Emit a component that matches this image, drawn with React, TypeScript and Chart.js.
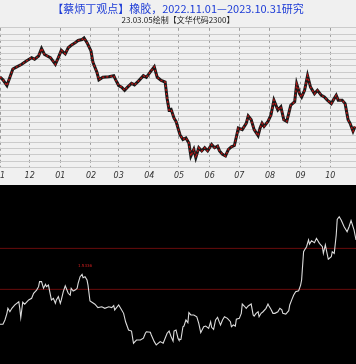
import React, { useEffect, useRef } from "react";
import { Chart, registerables } from "chart.js";

Chart.register(...registerables);

const titleText = "【蔡炳丁观点】橡胶，2022.11.01—2023.10.31研究";
const subtitleText = "23.03.05绘制【文华代码2300】";

// month starts, in days after 2022-11-01
const monthTicks = [0, 30, 61, 92, 120, 151, 181, 212, 242, 273, 304, 334];
const monthLabels = ["11", "12", "01", "02", "03", "04", "05", "06", "07", "08", "09", "10"];

// price path (upper panel)
const priceDays = [
  0, 3, 7, 13, 17, 22, 27, 32, 35, 39, 42, 45, 51, 56, 59, 62, 66, 69, 72, 76, 79, 83, 85, 88, 92, 94, 98, 100,
  104, 110, 115, 117, 120, 123, 126, 129, 133, 136, 140, 145, 148, 153, 156, 159, 163, 167, 169, 171, 173, 176,
  178, 182, 185, 188, 191, 193, 196, 198, 201, 204, 207, 210, 214, 217, 220, 222, 225, 228, 231, 234, 237, 239,
  241, 245, 249, 251, 254, 257, 261, 263, 265, 267, 271, 274, 277, 281, 284, 287, 290, 292, 294, 298, 300, 303,
  305, 308, 311, 314, 318, 321, 325, 328, 331, 335, 337, 340, 342, 346, 349, 352, 354, 357, 359,
];
const priceValues = [
  13650, 13560, 13380, 13900, 13970, 14050, 14160, 14260, 14210, 14310, 14550, 14360, 14260, 14050, 14260, 14490,
  14380, 14570, 14650, 14730, 14800, 14830, 14880, 14730, 14470, 14110, 13800, 13560, 13640, 13660, 13690, 13560,
  13380, 13330, 13230, 13330, 13450, 13400, 13520, 13690, 13640, 13850, 13970, 13640, 13540, 13490, 12970, 12610,
  12630, 12350, 12250, 11830, 11680, 11730, 11570, 11160, 11370, 11110, 11420, 11320, 11420, 11320, 11520, 11420,
  11470, 11320, 11210, 11160, 11370, 11450, 11490, 11760, 12040, 11990, 12190, 12420, 12300, 11990, 11800, 12040,
  12190, 12090, 12250, 12450, 12920, 12610, 12710, 12300, 12250, 12500, 12760, 12870, 13430, 13120, 13020, 13230,
  13690, 13330, 13120, 13230, 13070, 13020, 12920, 12810, 12920, 13070, 12920, 12920, 12810, 12300, 12190, 11940,
  12090,
];

// indicator path (lower panel)
const oscDays = [
  0, 3, 5, 7, 8, 10, 12, 15, 19, 20, 21, 23, 25, 29, 32, 34, 37, 39, 40, 42, 44, 46, 47, 49, 51, 52, 54, 56, 57,
  59, 61, 62, 64, 66, 67, 69, 71, 72, 74, 76, 78, 79, 81, 83, 84, 86, 88, 89, 91, 93, 96, 99, 103, 106, 110, 113,
  115, 116, 120, 122, 125, 127, 130, 133, 135, 138, 142, 145, 147, 148, 152, 153, 156, 158, 162, 165, 167, 169, 171,
  173, 175, 176, 178, 180, 181, 183, 185, 186, 188, 190, 191, 193, 196, 199, 201, 203, 206, 208, 211, 213, 214, 216,
  218, 220, 222, 223, 225, 227, 230, 233, 234, 236, 238, 239, 242, 244, 245, 247, 249, 251, 254, 256, 257, 259, 261,
  262, 264, 266, 269, 271, 272, 274, 276, 278, 281, 283, 285, 286, 289, 292, 293, 295, 297, 299, 302, 304, 305, 307,
  308, 310, 312, 313, 315, 318, 320, 323, 326, 327, 329, 330, 332, 335, 336, 338, 340, 341, 343, 345, 348, 351, 353,
  355, 358, 360,
];
const oscValues = [
  22.2, 22.2, 24.6, 28.3, 31.1, 29.2, 31.1, 33.0, 34.8, 31.1, 25.9, 34.5, 33.4, 35.8, 36.7, 39.5, 41.3, 43.2, 46.0,
  46.0, 42.3, 44.5, 43.2, 44.1, 38.5, 35.8, 36.7, 33.9, 35.8, 37.6, 33.9, 35.8, 40.4, 43.7, 42.3, 39.5, 38.5, 42.3,
  40.8, 41.3, 42.3, 45.1, 48.8, 50.1, 48.2, 48.8, 46.9, 44.1, 35.2, 34.5, 33.4, 31.5, 32.0, 31.1, 32.0, 31.5, 32.6,
  30.2, 33.0, 31.1, 28.3, 23.6, 19.0, 18.4, 11.6, 13.4, 13.4, 14.4, 17.2, 18.0, 17.7, 16.2, 12.5, 10.6, 12.5, 11.6,
  14.4, 17.2, 18.4, 15.3, 12.8, 18.4, 19.0, 14.4, 13.4, 13.8, 20.8, 21.2, 24.6, 23.1, 28.7, 27.4, 27.4, 26.4, 22.7,
  17.5, 20.8, 21.2, 19.9, 23.6, 20.5, 19.4, 24.6, 26.1, 23.1, 21.8, 24.6, 26.4, 25.5, 23.6, 20.8, 21.8, 21.2, 25.0,
  25.5, 28.3, 33.5, 32.4, 31.1, 32.4, 33.5, 27.4, 26.8, 28.3, 29.2, 26.4, 28.3, 29.2, 31.1, 33.5, 32.4, 30.6, 28.3,
  28.3, 29.2, 31.1, 30.2, 28.3, 27.9, 29.8, 33.0, 35.8, 38.5, 40.4, 40.9, 44.1, 46.9, 62.7, 63.7, 65.5, 69.3, 67.0,
  68.9, 67.8, 70.2, 67.4, 65.5, 61.8, 66.5, 63.7, 58.5, 59.9, 62.7, 61.8, 72.1, 80.8, 82.3, 80.4, 76.7, 73.9, 76.7,
  80.1, 74.9, 69.3,
];

const levelValues = [64.6, 41.7];
const markerDay = 86;
const markerValue = 54.9;
const markerText = "1.5336";

const CJK = '"Noto Sans CJK SC", "Noto Sans", sans-serif';

export default function App() {
  const topRef = useRef<HTMLCanvasElement | null>(null);
  const botRef = useRef<HTMLCanvasElement | null>(null);

  useEffect(() => {
    const pricePts = priceDays.map((d, i) => ({ x: d, y: priceValues[i] }));
    const top = new Chart(topRef.current as HTMLCanvasElement, {
      type: "line",
      data: {
        datasets: [
          {
            data: pricePts,
            borderColor: "#b81414",
            borderWidth: 1.4,
            borderDash: [2, 2],
            pointRadius: 0,
            tension: 0,
          },
          {
            data: pricePts,
            borderColor: "#1a1a1a",
            borderWidth: 3,
            pointRadius: 0,
            tension: 0,
          },
        ],
      },
      options: {
        responsive: false,
        animation: false,
        events: [],
        layout: { padding: 0 },
        plugins: {
          legend: { display: false },
          tooltip: { enabled: false },
          title: {
            display: true,
            text: titleText,
            color: "#1c3bd6",
            font: { family: CJK, size: 11, weight: "normal" },
            padding: { top: 2, bottom: 0 },
          },
          subtitle: {
            display: true,
            text: subtitleText,
            color: "#222",
            font: { family: CJK, size: 8, weight: "normal" },
            padding: { top: 0, bottom: 3 },
          },
        },
        scales: {
          x: {
            type: "linear",
            min: 0,
            max: 360,
            afterBuildTicks: (s: any) => {
              s.ticks = monthTicks.map((v) => ({ value: v }));
            },
            afterFit: (s: any) => {
              s.paddingLeft = 0;
              s.paddingRight = 0;
            },
            ticks: {
              callback: (v: any) => {
                const i = monthTicks.indexOf(Number(v));
                return i >= 0 ? monthLabels[i] : "";
              },
              color: "#333",
              font: { family: "DejaVu Sans", size: 8, style: "italic" },
              maxRotation: 0,
              autoSkip: false,
              padding: 4,
            },
            grid: { color: "#9c9c9c", drawTicks: false, lineWidth: 1 },
            border: { display: false, dash: [3, 3] },
          },
          y: {
            min: 10800,
            max: 15200,
            ticks: { display: false, stepSize: 200 },
            grid: { color: "#cbcbcb", drawTicks: false },
            border: { display: false },
          },
        },
      },
    } as any);

    const markerPlugin = {
      id: "marker",
      afterDatasetsDraw(chart: any) {
        const ctx = chart.ctx;
        const x = chart.scales.x.getPixelForValue(markerDay);
        const y = chart.scales.y.getPixelForValue(markerValue);
        ctx.save();
        ctx.fillStyle = "#d42020";
        ctx.font = "4px DejaVu Sans";
        ctx.textAlign = "center";
        ctx.textBaseline = "middle";
        ctx.fillText(markerText, x, y);
        ctx.restore();
      },
    };

    const bot = new Chart(botRef.current as HTMLCanvasElement, {
      type: "line",
      data: {
        datasets: [
          {
            data: oscDays.map((d, i) => ({ x: d, y: oscValues[i] })),
            borderColor: "#dcdcdc",
            borderWidth: 1.1,
            pointRadius: 0,
            tension: 0,
          },
          ...levelValues.map((v) => ({
            data: [
              { x: 0, y: v },
              { x: 360, y: v },
            ],
            borderColor: "#6a0c0c",
            borderWidth: 1,
            pointRadius: 0,
          })),
        ],
      },
      options: {
        responsive: false,
        animation: false,
        events: [],
        layout: { padding: 0 },
        plugins: { legend: { display: false }, tooltip: { enabled: false } },
        scales: {
          x: { type: "linear", display: false, min: 0, max: 360 },
          y: { display: false, min: 0, max: 100 },
        },
      },
      plugins: [markerPlugin],
    } as any);

    return () => {
      top.destroy();
      bot.destroy();
    };
  }, []);

  return (
    <div style={{ position: "fixed", left: 0, top: 0, width: 356, height: 364, overflow: "hidden" }}>
      <div style={{ width: 356, height: 185, background: "#f0f0f0" }}>
        <canvas ref={topRef} width={356} height={185} style={{ display: "block" }} />
      </div>
      <div style={{ width: 356, height: 179, background: "#000" }}>
        <canvas ref={botRef} width={356} height={179} style={{ display: "block" }} />
      </div>
    </div>
  );
}
